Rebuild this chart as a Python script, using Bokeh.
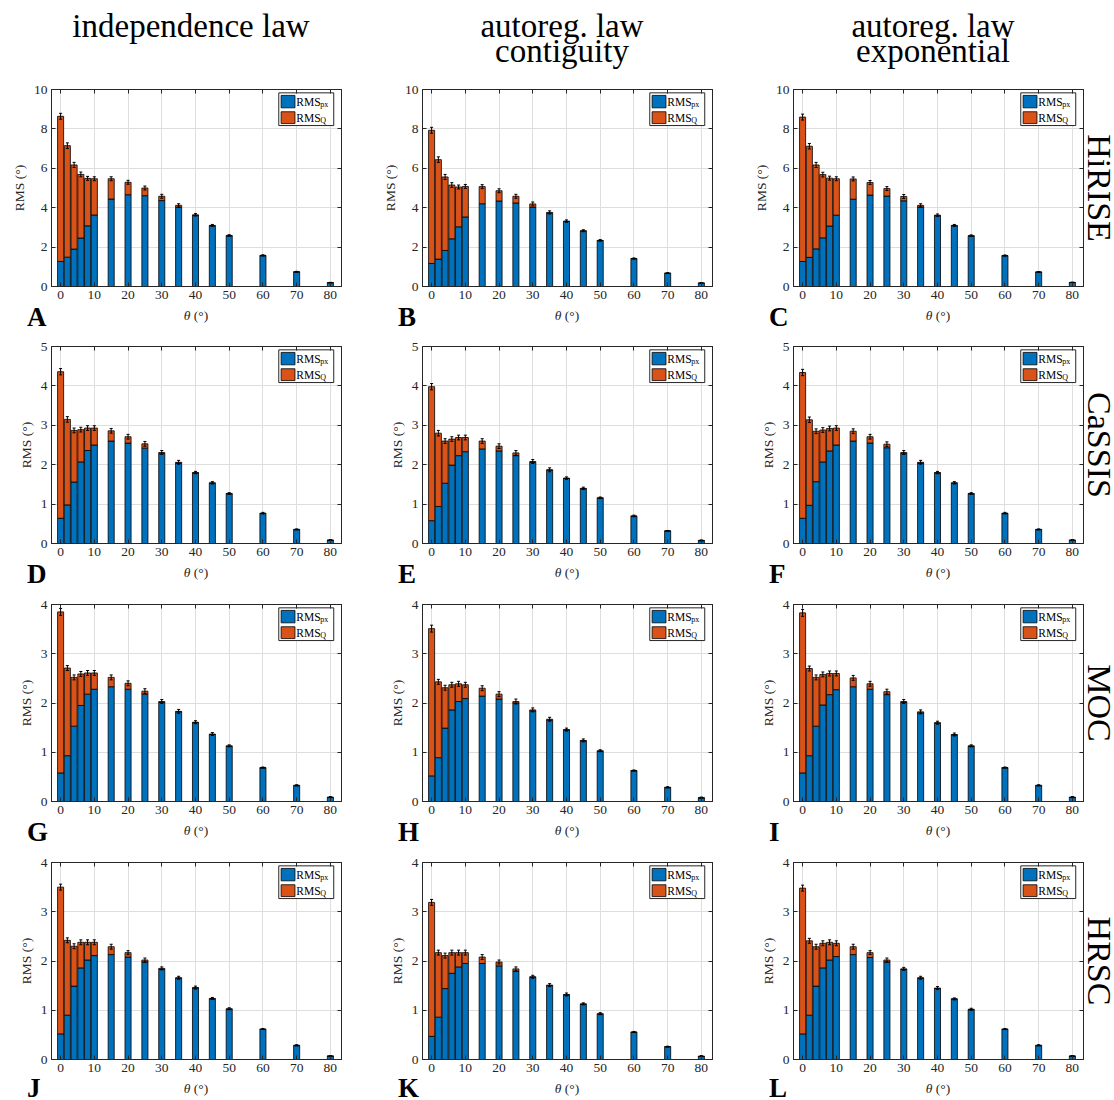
from bokeh.plotting import figure
from bokeh.models import Range1d, LinearAxis, FixedTicker, ColumnDataSource, Div
from bokeh.layouts import column, row
from bokeh.embed import file_html
from bokeh.resources import INLINE
from bokeh.core.properties import value

# ---------------- data ----------------
theta = [0, 2, 4, 6, 8, 10, 15, 20, 25, 30, 35, 40, 45, 50, 60, 70, 80]

col_titles = [["independence law"], ["autoreg. law", "contiguity"], ["autoreg. law", "exponential"]]
row_titles = ["HiRISE", "CaSSIS", "MOC", "HRSC"]
letters = [["A", "B", "C"], ["D", "E", "F"], ["G", "H", "I"], ["J", "K", "L"]]
y_max = [10, 5, 4, 4]
y_ticks = [[0, 2, 4, 6, 8, 10], [0, 1, 2, 3, 4, 5], [0, 1, 2, 3, 4], [0, 1, 2, 3, 4]]
x_ticks = [0, 10, 20, 30, 40, 50, 60, 70, 80]

# HiRISE
hirise_ind_px = [1.27, 1.49, 1.90, 2.46, 3.08, 3.63, 4.44, 4.66, 4.61, 4.36, 4.02, 3.60, 3.08, 2.57, 1.56, 0.74, 0.19]
hirise_ind_rms = [8.64, 7.15, 6.17, 5.69, 5.49, 5.47, 5.47, 5.29, 5.00, 4.58, 4.12, 3.64, 3.10, 2.59, 1.58, 0.75, 0.20]
hirise_con_px = [1.17, 1.39, 1.83, 2.42, 3.03, 3.53, 4.20, 4.34, 4.24, 4.02, 3.72, 3.30, 2.81, 2.33, 1.41, 0.67, 0.17]
hirise_con_rms = [7.93, 6.44, 5.56, 5.15, 5.05, 5.08, 5.07, 4.86, 4.58, 4.19, 3.76, 3.32, 2.83, 2.34, 1.42, 0.68, 0.18]
hirise_exp_px = [1.27, 1.48, 1.91, 2.47, 3.07, 3.62, 4.43, 4.64, 4.59, 4.35, 4.03, 3.59, 3.08, 2.56, 1.56, 0.73, 0.20]
hirise_exp_rms = [8.60, 7.12, 6.17, 5.68, 5.50, 5.47, 5.46, 5.28, 4.97, 4.57, 4.12, 3.62, 3.10, 2.58, 1.57, 0.74, 0.21]
hirise_err = [0.15, 0.14, 0.13, 0.12, 0.10, 0.10, 0.10, 0.10, 0.10, 0.10, 0.08, 0.06, 0.05, 0.04, 0.03, 0.02, 0.01]

# CaSSIS
cassis_ind_px = [0.64, 0.98, 1.56, 2.07, 2.36, 2.50, 2.60, 2.55, 2.42, 2.28, 2.04, 1.79, 1.53, 1.26, 0.76, 0.35, 0.08]
cassis_ind_rms = [4.36, 3.15, 2.87, 2.89, 2.93, 2.93, 2.86, 2.71, 2.53, 2.31, 2.06, 1.80, 1.54, 1.27, 0.77, 0.36, 0.09]
cassis_con_px = [0.58, 0.94, 1.53, 1.99, 2.23, 2.33, 2.40, 2.35, 2.23, 2.06, 1.86, 1.65, 1.39, 1.15, 0.69, 0.32, 0.07]
cassis_con_rms = [3.98, 2.80, 2.60, 2.65, 2.69, 2.69, 2.60, 2.47, 2.30, 2.08, 1.87, 1.66, 1.40, 1.16, 0.70, 0.32, 0.08]
cassis_exp_px = [0.64, 0.97, 1.57, 2.07, 2.35, 2.50, 2.60, 2.55, 2.43, 2.28, 2.04, 1.79, 1.53, 1.26, 0.76, 0.35, 0.08]
cassis_exp_rms = [4.34, 3.14, 2.85, 2.88, 2.92, 2.93, 2.85, 2.71, 2.52, 2.31, 2.06, 1.80, 1.54, 1.27, 0.77, 0.36, 0.09]
cassis_err = [0.08, 0.07, 0.06, 0.06, 0.06, 0.06, 0.06, 0.06, 0.06, 0.05, 0.05, 0.03, 0.03, 0.02, 0.02, 0.01, 0.01]

# MOC
moc_ind_px = [0.58, 0.93, 1.53, 1.95, 2.18, 2.28, 2.33, 2.28, 2.18, 2.01, 1.82, 1.60, 1.36, 1.12, 0.68, 0.32, 0.08]
moc_ind_rms = [3.85, 2.71, 2.52, 2.59, 2.61, 2.61, 2.52, 2.40, 2.24, 2.03, 1.83, 1.61, 1.37, 1.13, 0.69, 0.33, 0.09]
moc_con_px = [0.52, 0.89, 1.49, 1.86, 2.03, 2.09, 2.14, 2.08, 2.00, 1.84, 1.65, 1.45, 1.23, 1.02, 0.62, 0.28, 0.07]
moc_con_rms = [3.51, 2.43, 2.31, 2.37, 2.39, 2.37, 2.30, 2.18, 2.03, 1.86, 1.67, 1.46, 1.24, 1.03, 0.63, 0.29, 0.08]
moc_exp_px = [0.58, 0.93, 1.53, 1.96, 2.17, 2.27, 2.33, 2.28, 2.17, 2.01, 1.80, 1.59, 1.35, 1.12, 0.68, 0.32, 0.08]
moc_exp_rms = [3.83, 2.70, 2.52, 2.58, 2.60, 2.60, 2.51, 2.39, 2.23, 2.03, 1.82, 1.60, 1.36, 1.13, 0.69, 0.33, 0.09]
moc_err = [0.07, 0.05, 0.05, 0.05, 0.05, 0.05, 0.05, 0.05, 0.05, 0.04, 0.04, 0.03, 0.03, 0.02, 0.01, 0.01, 0.01]

# HRSC
hrsc_ind_px = [0.52, 0.90, 1.49, 1.86, 2.02, 2.11, 2.13, 2.08, 1.98, 1.83, 1.65, 1.45, 1.23, 1.02, 0.61, 0.28, 0.07]
hrsc_ind_rms = [3.50, 2.42, 2.30, 2.38, 2.38, 2.38, 2.29, 2.17, 2.02, 1.85, 1.66, 1.46, 1.24, 1.03, 0.62, 0.29, 0.07]
hrsc_con_px = [0.47, 0.86, 1.44, 1.75, 1.88, 1.95, 1.95, 1.90, 1.79, 1.67, 1.50, 1.31, 1.12, 0.92, 0.55, 0.26, 0.06]
hrsc_con_rms = [3.19, 2.17, 2.11, 2.17, 2.17, 2.17, 2.08, 1.98, 1.84, 1.68, 1.51, 1.32, 1.13, 0.93, 0.56, 0.26, 0.07]
hrsc_exp_px = [0.52, 0.90, 1.49, 1.86, 2.02, 2.09, 2.13, 2.07, 1.98, 1.83, 1.65, 1.44, 1.23, 1.01, 0.61, 0.28, 0.07]
hrsc_exp_rms = [3.48, 2.41, 2.29, 2.36, 2.38, 2.36, 2.29, 2.17, 2.02, 1.84, 1.66, 1.45, 1.23, 1.02, 0.62, 0.29, 0.07]
hrsc_err = [0.06, 0.05, 0.05, 0.05, 0.05, 0.05, 0.05, 0.04, 0.04, 0.03, 0.03, 0.03, 0.02, 0.02, 0.01, 0.01, 0.01]

panels = [
    [(hirise_ind_px, hirise_ind_rms), (hirise_con_px, hirise_con_rms), (hirise_exp_px, hirise_exp_rms)],
    [(cassis_ind_px, cassis_ind_rms), (cassis_con_px, cassis_con_rms), (cassis_exp_px, cassis_exp_rms)],
    [(moc_ind_px, moc_ind_rms), (moc_con_px, moc_con_rms), (moc_exp_px, moc_exp_rms)],
    [(hrsc_ind_px, hrsc_ind_rms), (hrsc_con_px, hrsc_con_rms), (hrsc_exp_px, hrsc_exp_rms)],
]
errors = [hirise_err, cassis_err, moc_err, hrsc_err]

# ---------------- layout / style ----------------
FONT = "Liberation Serif"
CSS_FONT = "'Liberation Serif', serif"
BLUE = "#0072BD"
ORANGE = "#D95319"
AX = "#262626"
GRID = "#dedede"
XLO, XHI = -2.7, 83.3
BAR_W = 1.8

FRAME_W, FRAME_H = 290, 197
LEFT_B = [51, 45, 45]
RIGHT_B = [36, 36, 4]
TOP_B = [12, 12, 13, 13]
BOT_B = 20
HEADER_H = 77
UNDER_H = [28, 28, 28, 19]
SIDE_W = 25


def style_axis(ax, ticks, show_labels=True, label=None):
    ax.ticker = FixedTicker(ticks=ticks)
    ax.major_tick_in = 4
    ax.major_tick_out = 0
    ax.minor_tick_line_color = None
    ax.axis_line_color = AX
    ax.major_tick_line_color = AX
    ax.major_label_text_font = FONT
    ax.major_label_text_color = AX
    if show_labels:
        ax.major_label_text_font_size = "13.5px"
        ax.major_label_standoff = 4
    else:
        ax.major_label_text_font_size = "0px"
        ax.major_label_standoff = 0
    if label is not None:
        ax.axis_label = label
        ax.axis_label_text_font = FONT
        ax.axis_label_text_font_size = "13.5px"
        ax.axis_label_text_font_style = "normal"
        ax.axis_label_text_color = AX
        ax.axis_label_standoff = 4


def make_panel(r, c):
    px, rms = panels[r][c]
    err = errors[r]
    ymax = y_max[r]
    p = figure(frame_width=FRAME_W, frame_height=FRAME_H,
               min_border_left=LEFT_B[c], min_border_right=RIGHT_B[c],
               min_border_top=TOP_B[r], min_border_bottom=BOT_B,
               x_range=Range1d(XLO, XHI), y_range=Range1d(0, ymax),
               output_backend="svg", toolbar_location=None)
    p.outline_line_color = AX
    p.background_fill_color = "white"
    p.border_fill_color = "white"

    style_axis(p.xaxis[0], x_ticks, True)
    style_axis(p.yaxis[0], y_ticks[r], True, "RMS (°)")
    top_ax = LinearAxis()
    style_axis(top_ax, x_ticks, False)
    p.add_layout(top_ax, "above")
    right_ax = LinearAxis()
    style_axis(right_ax, y_ticks[r], False)
    p.add_layout(right_ax, "right")

    p.xgrid.ticker = FixedTicker(ticks=x_ticks)
    p.ygrid.ticker = FixedTicker(ticks=y_ticks[r])
    p.xgrid.grid_line_color = GRID
    p.ygrid.grid_line_color = GRID

    src = ColumnDataSource(dict(
        x=theta, px=px, rms=rms,
        lo=[t - e for t, e in zip(rms, err)], hi=[t + e for t, e in zip(rms, err)],
        cl=[x - 0.45 for x in theta], cr=[x + 0.45 for x in theta],
    ))
    p.vbar(x="x", bottom=0, top="px", width=BAR_W, source=src,
           fill_color=BLUE, line_color="black", line_width=0.8)
    p.vbar(x="x", bottom="px", top="rms", width=BAR_W, source=src,
           fill_color=ORANGE, line_color="black", line_width=0.8)
    p.segment(x0="x", y0="lo", x1="x", y1="hi", source=src, line_color="black", line_width=1)
    p.segment(x0="cl", y0="lo", x1="cr", y1="lo", source=src, line_color="black", line_width=1)
    p.segment(x0="cl", y0="hi", x1="cr", y1="hi", source=src, line_color="black", line_width=1)

    # legend (custom, to allow subscripts)
    p.quad(left=[64.7], right=[81.0], bottom=[0.817 * ymax], top=[0.983 * ymax],
           fill_color="white", line_color=AX, line_width=1)
    p.quad(left=[65.4, 65.4], right=[69.5, 69.5],
           bottom=[0.907 * ymax, 0.827 * ymax], top=[0.970 * ymax, 0.887 * ymax],
           fill_color=[BLUE, ORANGE], line_color="black", line_width=0.8)
    ly = [0.938 * ymax, 0.857 * ymax]
    p.text(x=[69.9, 69.9], y=ly, text=["RMS", "RMS"], text_font=value(FONT),
           text_font_size="11.5px", text_baseline="middle", text_align="left", text_color="black")
    p.text(x=[69.9, 69.9], y=ly, text=["px", "Q"], text_font=value(FONT),
           text_font_size="8px", text_baseline="middle", text_align="left", text_color="black",
           x_offset=24, y_offset=3)
    return p


def cell_w(c):
    return LEFT_B[c] + FRAME_W + RIGHT_B[c]


def header_div(c):
    w = cell_w(c)
    cx = LEFT_B[c] + FRAME_W / 2 - 5
    block = "<br>".join(col_titles[c])
    html = (f'<div style="position:relative;width:{w}px;height:{HEADER_H}px;'
            f'font-family:{CSS_FONT};">'
            f'<div style="position:absolute;left:{cx}px;top:13.5px;transform:translateX(-50%);'
            f'white-space:nowrap;text-align:center;font-size:33px;line-height:25px;color:black;">'
            f'{block}</div></div>')
    return Div(text=html, width=w, height=HEADER_H, margin=0)


def under_div(r, c):
    w = cell_w(c)
    h = UNDER_H[r]
    cx = LEFT_B[c] + FRAME_W / 2
    lh = min(22, h)
    html = (f'<div style="position:relative;width:{w}px;height:{h}px;'
            f'font-family:{CSS_FONT};">'
            f'<span style="position:absolute;left:{LEFT_B[c] - 24}px;top:0px;font-size:27px;'
            f'font-weight:bold;line-height:{lh}px;color:black;">{letters[r][c]}</span>'
            f'<span style="position:absolute;left:{cx}px;top:2px;transform:translateX(-50%);'
            f'white-space:nowrap;font-size:13.5px;line-height:15px;color:{AX};">'
            f'<i>θ</i> (°)</span></div>')
    return Div(text=html, width=w, height=h, margin=0)


def side_div(r):
    h = TOP_B[r] + FRAME_H + BOT_B
    cy = TOP_B[r] + FRAME_H / 2
    html = (f'<div style="position:relative;width:{SIDE_W}px;height:{h}px;font-family:{CSS_FONT};">'
            f'<span style="position:absolute;left:0px;top:{cy}px;transform:translateY(-50%);'
            f'writing-mode:vertical-rl;white-space:nowrap;font-size:34px;line-height:{SIDE_W}px;'
            f'color:black;">{row_titles[r]}</span></div>')
    return Div(text=html, width=SIDE_W, height=h, margin=0)


rows = [row([header_div(c) for c in range(3)])]
for r in range(4):
    rows.append(row([make_panel(r, c) for c in range(3)] + [side_div(r)]))
    rows.append(row([under_div(r, c) for c in range(3)]))
layout = column(rows)

open("out.html", "w").write(file_html(layout, INLINE))
